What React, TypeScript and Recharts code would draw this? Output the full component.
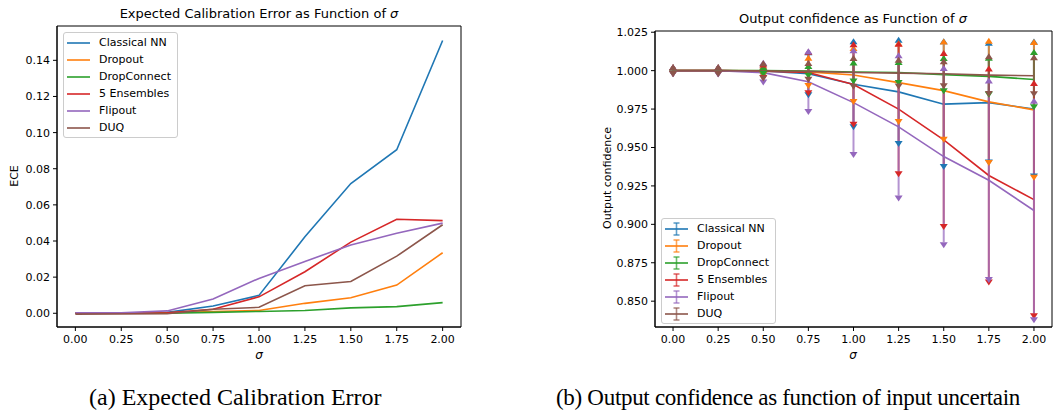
import React from 'react'
import { LineChart, ComposedChart, Line, Scatter, XAxis, YAxis, ErrorBar, ReferenceArea, Legend } from 'recharts'

const SIGMAS = [0, 0.25, 0.5, 0.75, 1, 1.25, 1.5, 1.75, 2]
const ECE_TICKS = [0, 0.02, 0.04, 0.06, 0.08, 0.1, 0.12, 0.14]
const CONF_TICKS = [0.85, 0.875, 0.9, 0.925, 0.95, 0.975, 1.0, 1.025]

const METHODS = ['Classical NN', 'Dropout', 'DropConnect', '5 Ensembles', 'Flipout', 'DUQ']
const COLORS = ['#1f77b4', '#ff7f0e', '#2ca02c', '#d62728', '#9467bd', '#8c564b']

// (a) expected calibration error per sigma
const eceClassical = [0, 0, 0.0005, 0.004, 0.0099, 0.0423, 0.0718, 0.0905, 0.151]
const eceDropout = [0, 0, 0.0003, 0.001, 0.0015, 0.0055, 0.0086, 0.0156, 0.0335]
const eceDropConnect = [0, 0, 0.0001, 0.0005, 0.001, 0.0015, 0.003, 0.0037, 0.0059]
const eceEnsembles = [0, 0, 0.0003, 0.0022, 0.0091, 0.023, 0.0394, 0.052, 0.0513]
const eceFlipout = [0.0002, 0.0003, 0.0013, 0.0079, 0.0193, 0.0287, 0.0378, 0.0443, 0.0499]
const eceDuq = [-0.0005, -0.0004, -0.0003, 0.0022, 0.0033, 0.0152, 0.0176, 0.0316, 0.049]

// (b) mean output confidence and its spread
const confClassical = [1.0, 1.0, 0.9998, 0.998, 0.9912, 0.9862, 0.9782, 0.9792, 0.975]
const confDropout = [1.0, 1.0, 0.9999, 0.9992, 0.9972, 0.9922, 0.987, 0.9797, 0.9745]
const confDropConnect = [1.0, 1.0, 1.0, 0.9998, 0.9991, 0.9988, 0.9974, 0.9963, 0.9942]
const confEnsembles = [1.0, 1.0, 0.9996, 0.9988, 0.991, 0.975, 0.9549, 0.9318, 0.9161]
const confFlipout = [0.9999, 0.9999, 0.9987, 0.9928, 0.9792, 0.9634, 0.9441, 0.9287, 0.909]
const confDuq = [1.0, 1.0, 0.9998, 0.9995, 0.9988, 0.9984, 0.998, 0.9971, 0.9967]

const errClassical = [0.0002, 0.0003, 0.001, 0.012, 0.026, 0.032, 0.039, 0.037, 0.042]
const errDropout = [0.0002, 0.0002, 0.0008, 0.0072, 0.0156, 0.0237, 0.03, 0.0378, 0.0422]
const errDropConnect = [0.0001, 0.0001, 0.0003, 0.0012, 0.0042, 0.0049, 0.0089, 0.0101, 0.016]
const errEnsembles = [0.0002, 0.0002, 0.0025, 0.0115, 0.0243, 0.0405, 0.0546, 0.0677, 0.0739]
const errFlipout = [0.0003, 0.0004, 0.0045, 0.0178, 0.0322, 0.0447, 0.0557, 0.063, 0.0694]
const errDuq = [0.0002, 0.0002, 0.003, 0.0035, 0.0074, 0.0068, 0.0062, 0.0103, 0.0101]

const ECE = [eceClassical, eceDropout, eceDropConnect, eceEnsembles, eceFlipout, eceDuq]
const CONF = [confClassical, confDropout, confDropConnect, confEnsembles, confFlipout, confDuq]
const ERR = [errClassical, errDropout, errDropConnect, errEnsembles, errFlipout, errDuq]

const eceRows = SIGMAS.map((x, i) => {
  const row: Record<string, number> = { x }
  METHODS.forEach((m, k) => { row[m] = ECE[k][i] })
  return row
})

const confRows = CONF.map((vals, k) => SIGMAS.map((x, i) => ({ x, y: vals[i], err: ERR[k][i] })))
const capRows = CONF.map((vals, k) =>
  SIGMAS.flatMap((x, i) => [
    { x, y: vals[i] + ERR[k][i], dir: 'up' },
    { x, y: vals[i] - ERR[k][i], dir: 'down' },
  ])
)

const FONT = '"DejaVu Sans", sans-serif'
const SERIF = '"Liberation Serif", serif'
const tickStyle = { fontSize: 11, fill: '#000', fontFamily: FONT }
const fmt = (v: number) => v.toFixed(2)
const fmt3 = (v: number) => v.toFixed(3)
const X_DOMAIN = [-0.1, 2.1]
const ECE_DOMAIN = [-0.0076, 0.159]
const CONF_DOMAIN = [0.8332, 1.0258]

const Caret = (props: any) => {
  const { cx, cy, payload, color } = props
  if (cx == null || cy == null) return null
  const tip = payload.dir === 'up' ? cy - 6 : cy + 6
  return <polygon points={`${cx - 4},${cy} ${cx + 4},${cy} ${cx},${tip}`} fill={color} />
}

const legendBox: React.CSSProperties = {
  border: '1px solid #ccc',
  borderRadius: 3,
  background: 'rgba(255,255,255,0.8)',
  padding: '1px 6px 1px 3px',
  fontFamily: FONT,
  fontSize: 11,
  color: '#000',
}

const LineLegend = () => (
  <div style={legendBox}>
    {METHODS.map((m, k) => (
      <div key={m} style={{ display: 'flex', alignItems: 'center', height: 17 }}>
        <svg width={23} height={10} style={{ marginRight: 9 }}>
          <line x1={0} x2={23} y1={5} y2={5} stroke={COLORS[k]} strokeWidth={1.6} />
        </svg>
        <span>{m}</span>
      </div>
    ))}
  </div>
)

const ErrLegend = () => (
  <div style={legendBox}>
    {METHODS.map((m, k) => (
      <div key={m} style={{ display: 'flex', alignItems: 'center', height: 17 }}>
        <svg width={23} height={14} style={{ marginRight: 9 }}>
          <line x1={0} x2={23} y1={7} y2={7} stroke={COLORS[k]} strokeWidth={1.6} />
          <g stroke={COLORS[k]} strokeOpacity={0.7} strokeWidth={1.6}>
            <line x1={11.5} x2={11.5} y1={1} y2={13} />
            <line x1={8.5} x2={14.5} y1={1} y2={1} />
            <line x1={8.5} x2={14.5} y1={13} y2={13} />
          </g>
        </svg>
        <span>{m}</span>
      </div>
    ))}
  </div>
)

const text = (style: React.CSSProperties, children: React.ReactNode) => (
  <div style={{ position: 'absolute', whiteSpace: 'nowrap', lineHeight: 1, fontFamily: FONT, color: '#000', ...style }}>
    {children}
  </div>
)

export default function App() {
  return (
    <div style={{ position: 'absolute', left: 0, top: 0, width: 1054, height: 414, background: '#fff', overflow: 'hidden' }}>
      <div style={{ position: 'absolute', left: 0, top: 0 }}>
        <LineChart width={470} height={360} data={eceRows} margin={{ top: 26, right: 9, bottom: 8, left: 7 }}>
          <XAxis dataKey="x" type="number" domain={X_DOMAIN} ticks={SIGMAS} tickFormatter={fmt} allowDataOverflow
            height={25} tick={tickStyle} tickSize={4} tickMargin={4} stroke="#000" />
          <YAxis type="number" domain={ECE_DOMAIN} ticks={ECE_TICKS} tickFormatter={fmt} allowDataOverflow
            width={50} tick={tickStyle} tickSize={4} tickMargin={3} stroke="#000" />
          {METHODS.map((m, k) => (
            <Line key={m} dataKey={m} stroke={COLORS[k]} strokeWidth={1.6} dot={false} isAnimationActive={false} />
          ))}
          <ReferenceArea x1={X_DOMAIN[0]} x2={X_DOMAIN[1]} y1={ECE_DOMAIN[0]} y2={ECE_DOMAIN[1]} fill="none" stroke="#000" strokeWidth={1} fillOpacity={0} />
          <Legend layout="horizontal" align="center" verticalAlign="middle" wrapperStyle={{ left: 63, top: 32, width: 'auto', height: 'auto' }} content={() => <LineLegend />} />
        </LineChart>
      </div>
      <div style={{ position: 'absolute', left: 540, top: 0 }}>
        <ComposedChart width={514} height={360} margin={{ top: 31, right: 2, bottom: 8, left: 65 }}>
          <XAxis dataKey="x" type="number" domain={X_DOMAIN} ticks={SIGMAS} tickFormatter={fmt} allowDataOverflow
            height={25} tick={tickStyle} tickSize={4} tickMargin={4} stroke="#000" />
          <YAxis type="number" domain={CONF_DOMAIN} ticks={CONF_TICKS} tickFormatter={fmt3} allowDataOverflow
            width={50} tick={tickStyle} tickSize={4} tickMargin={3} stroke="#000" />
          {METHODS.flatMap((m, k) => [
            <Line key={m} data={confRows[k]} dataKey="y" name={m} stroke={COLORS[k]} strokeWidth={1.6} dot={false} isAnimationActive={false}>
              <ErrorBar dataKey="err" width={0} stroke={COLORS[k]} strokeWidth={2} strokeOpacity={0.7} direction="y" isAnimationActive={false} />
            </Line>,
            <Scatter key={m + '-caps'} data={capRows[k]} dataKey="y" legendType="none" isAnimationActive={false}
              shape={(p: any) => <Caret {...p} color={COLORS[k]} />} />,
          ])}
          <ReferenceArea x1={X_DOMAIN[0]} x2={X_DOMAIN[1]} y1={CONF_DOMAIN[0]} y2={CONF_DOMAIN[1]} fill="none" stroke="#000" strokeWidth={1} fillOpacity={0} />
          <Legend layout="horizontal" align="center" verticalAlign="middle" wrapperStyle={{ left: 121, top: 218, width: 'auto', height: 'auto' }} content={() => <ErrLegend />} />
        </ComposedChart>
      </div>

      {text({ left: 259, top: 7, fontSize: 13, transform: 'translateX(-50%)' }, <>Expected Calibration Error as Function of <i>σ</i></>)}
      {text({ left: 853, top: 12, fontSize: 13, transform: 'translateX(-50%)' }, <>Output confidence as Function of <i>σ</i></>)}
      {text({ left: 259, top: 349, fontSize: 12, transform: 'translateX(-50%)' }, <i>σ</i>)}
      {text({ left: 853, top: 349, fontSize: 12, transform: 'translateX(-50%)' }, <i>σ</i>)}
      {text({ left: 14, top: 176, fontSize: 11, transform: 'translate(-50%, -50%) rotate(-90deg)' }, 'ECE')}
      {text({ left: 607, top: 178, fontSize: 11, transform: 'translate(-50%, -50%) rotate(-90deg)' }, 'Output confidence')}
      {text({ left: 89, top: 385, fontSize: 24, fontFamily: SERIF }, '(a) Expected Calibration Error')}
      {text({ left: 556, top: 386, fontSize: 23, fontFamily: SERIF, letterSpacing: -0.3 }, '(b) Output confidence as function of input uncertain')}
    </div>
  )
}
